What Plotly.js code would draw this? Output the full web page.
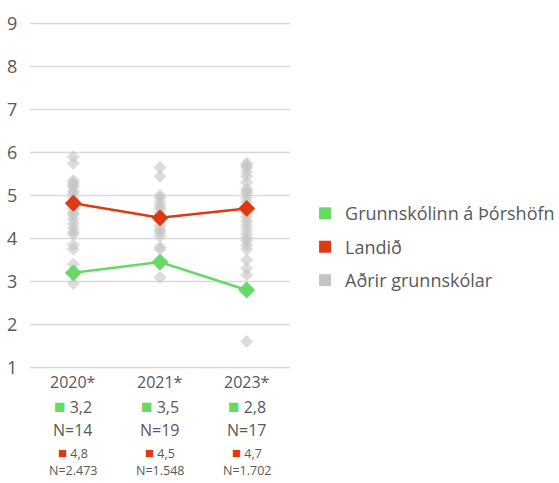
<!DOCTYPE html>
<html><head><meta charset="utf-8">
<script src="https://cdn.plot.ly/plotly-3.0.1.min.js"></script>
<style>body{margin:0;background:#fff}#c{width:559px;height:483px}</style>
</head><body><div id="c"></div>
<script>
const years = ['2020*', '2021*', '2023*'];
const schoolValues = [3.2, 3.45, 2.8];
const schoolLabels = ['3,2', '3,5', '2,8'];
const schoolN = ['14', '19', '17'];
const nationalValues = [4.82, 4.48, 4.7];
const nationalLabels = ['4,8', '4,5', '4,7'];
const nationalN = ['2.473', '1.548', '1.702'];
const others2020 = [5.9, 5.75, 5.35, 5.3, 5.25, 5.2, 5.1, 5.05, 4.95, 4.85, 4.7, 4.6, 4.55, 4.45, 4.35, 4.25, 4.15, 4.1, 3.85, 3.75, 3.4, 2.95];
const others2021 = [5.65, 5.45, 5.0, 4.95, 4.85, 4.75, 4.7, 4.6, 4.5, 4.4, 4.3, 4.2, 4.15, 4.05, 3.8, 3.75, 3.1];
const others2023 = [5.75, 5.7, 5.65, 5.55, 5.45, 5.3, 5.15, 5.1, 5.05, 4.95, 4.85, 4.75, 4.6, 4.5, 4.4, 4.3, 4.2, 4.1, 4.0, 3.95, 3.85, 3.75, 3.5, 3.3, 3.15, 1.6];
const legendNames = ['Grunnskólinn á Þórshöfn', 'Landið', 'Aðrir grunnskólar'];
const yTicks = [1, 2, 3, 4, 5, 6, 7, 8, 9];

const GREEN = '#66d966', RED = '#dc3a13', GRAY = '#c4c4c4', TXT = '#595959', GRID = '#d9d9d9';
const FONT = '"Open Sans", sans-serif';

const othersAll = [others2020, others2021, others2023];
const ox = [], oy = [];
othersAll.forEach((arr, i) => arr.forEach(v => { ox.push(years[i]); oy.push(v); }));

const traces = [
  {x: ox, y: oy, type: 'scatter', mode: 'markers', showlegend: false, hoverinfo: 'skip',
   marker: {symbol: 'diamond', size: 10, color: GRAY, opacity: 0.6}},
  {x: years, y: nationalValues, type: 'scatter', mode: 'lines+markers', showlegend: false,
   line: {color: RED, width: 2.5}, marker: {symbol: 'diamond', size: 13, color: RED}},
  {x: years, y: schoolValues, type: 'scatter', mode: 'lines+markers', showlegend: false,
   line: {color: GREEN, width: 2.5}, marker: {symbol: 'diamond', size: 13, color: GREEN}},
  {x: [null], y: [null], type: 'scatter', mode: 'markers', name: legendNames[0], legendgroup: 'a', marker: {symbol: 'square', size: 14, color: GREEN}},
  {x: [null], y: [null], type: 'scatter', mode: 'markers', name: legendNames[1], legendgroup: 'b', marker: {symbol: 'square', size: 14, color: RED}},
  {x: [null], y: [null], type: 'scatter', mode: 'markers', name: legendNames[2], legendgroup: 'c', marker: {symbol: 'square', size: 14, color: GRAY}}
];

// horizontal guide lines at every y tick (edge ticks are not gridded by Plotly here)
const shapes = yTicks.map(v => ({type: 'line', layer: 'below', xref: 'paper', x0: 0, x1: 1, yref: 'y', y0: v, y1: v,
  line: {color: GRID, width: 1.5}}));

const ann = [];
years.forEach((yr, i) => {
  const rows = [
    {t: yr, s: -6, f: 16},
    {t: `<span style="color:${GREEN};font-size:19px">■</span> ${schoolLabels[i]}`, s: -30, f: 16},
    {t: `N=${schoolN[i]}`, s: -54, f: 16},
    {t: `<span style="color:${RED};font-size:15px">■</span> ${nationalLabels[i]}`, s: -76, f: 12.5},
    {t: `N=${nationalN[i]}`, s: -94, f: 12.5}
  ];
  rows.forEach(r => ann.push({x: yr, xref: 'x', y: 0, yref: 'paper', yshift: r.s, text: r.t, borderpad: 0,
    showarrow: false, xanchor: 'center', yanchor: 'middle', font: {family: FONT, size: r.f, color: TXT}}));
});

const layout = {
  width: 559, height: 483,
  margin: {l: 30, r: 269, t: 15, b: 107, autoexpand: false},
  paper_bgcolor: '#fff', plot_bgcolor: '#fff',
  font: {family: FONT, color: TXT},
  xaxis: {type: 'category', categoryarray: years, range: [-0.5, 2.5], showgrid: false, zeroline: false,
          showticklabels: false, showline: false, fixedrange: true},
  yaxis: {range: [0.8, 9.2], tickmode: 'array', tickvals: yTicks, showgrid: false,
          zeroline: false, showline: false, ticks: 'outside', ticklen: 8, tickcolor: 'rgba(0,0,0,0)',
          tickfont: {family: FONT, size: 18, color: TXT}},
  shapes: shapes,
  showlegend: true,
  legend: {x: 1.058, xanchor: 'left', y: 0.357, yanchor: 'middle', font: {family: FONT, size: 18, color: TXT},
           traceorder: 'grouped', itemsizing: 'constant', tracegroupgap: 7, bgcolor: 'rgba(0,0,0,0)'},
  annotations: ann
};
Plotly.newPlot('c', traces, layout, {displayModeBar: false, staticPlot: true});
</script></body></html>
